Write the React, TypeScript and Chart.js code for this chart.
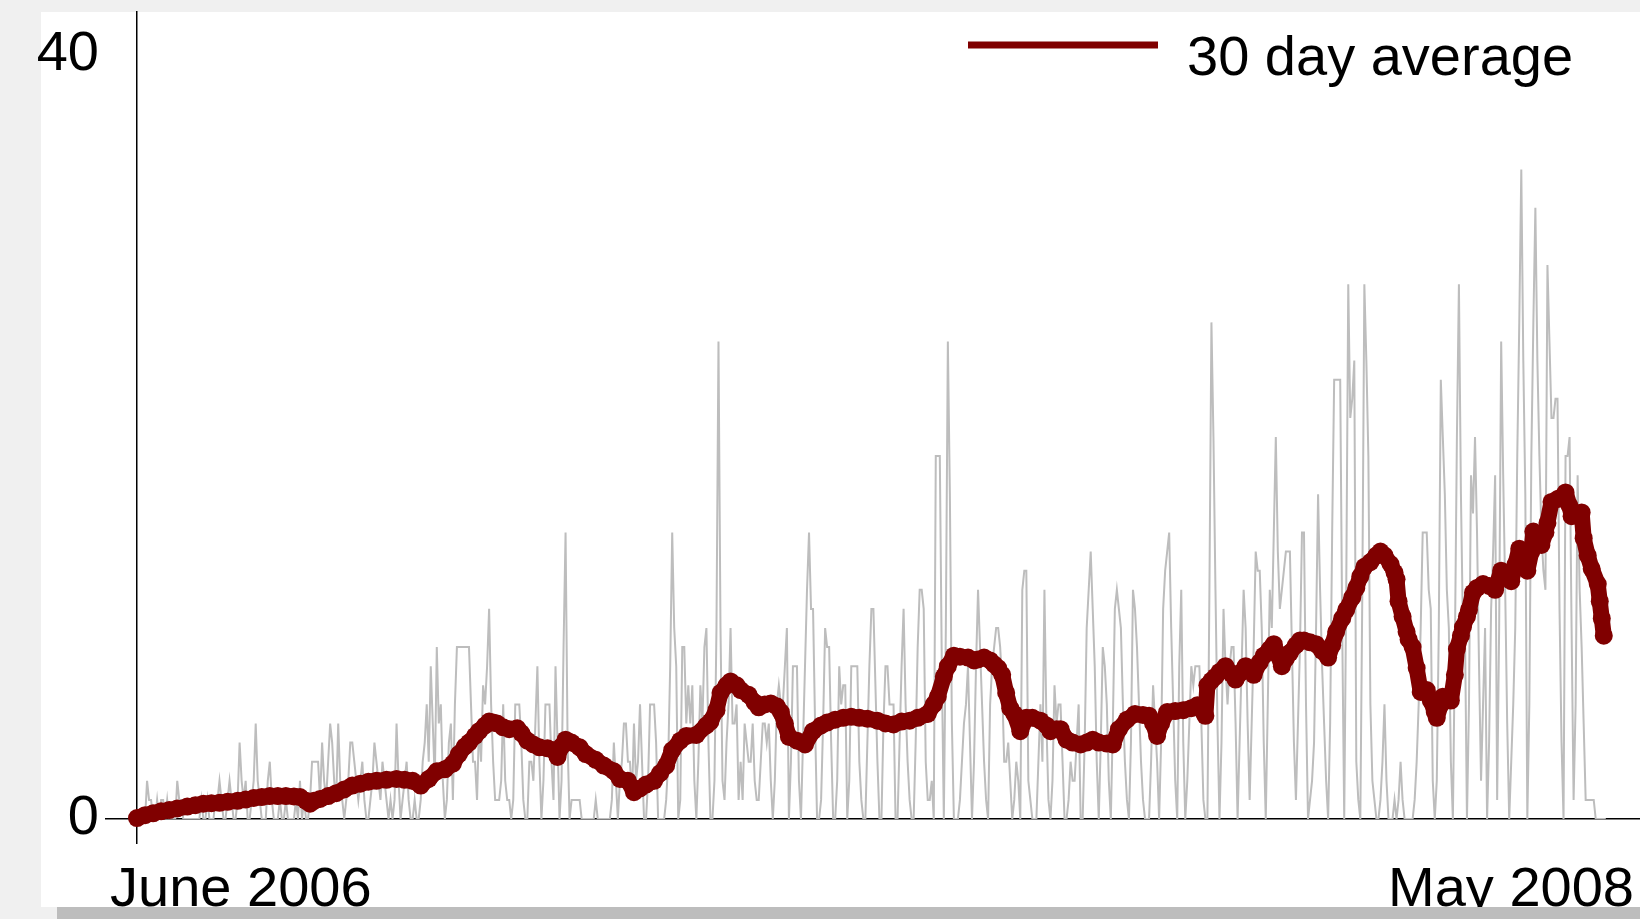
import React, { useEffect, useRef } from "react";
import { Chart, registerables } from "chart.js";

Chart.register(...registerables);

// Daily counts, one value per day from June 2006 (day 0) to May 2008
const dailyCounts: number[] = [
  0, 0, 0, 0, 0, 2, 1, 1, 0, 0,
  1, 0, 1, 1, 0, 1, 0, 0, 0, 0,
  2, 1, 1, 0, 0, 0, 0, 0, 0, 0,
  0, 0, 1, 0, 0, 1, 0, 0, 0, 1,
  1, 2, 1, 0, 0, 1, 2, 1, 0, 0,
  1, 4, 2, 1, 2, 0, 0, 1, 2, 5,
  2, 1, 0, 0, 0, 2, 3, 1, 0, 0,
  0, 1, 0, 0, 1, 0, 0, 0, 0, 1,
  0, 2, 0, 1, 0, 0, 1, 3, 3, 3,
  3, 1, 4, 2, 1, 3, 5, 4, 2, 1,
  5, 2, 1, 0, 1, 2, 4, 4, 3, 2,
  1, 2, 3, 1, 0, 0, 1, 2, 4, 3,
  2, 1, 3, 2, 1, 0, 1, 0, 1, 5,
  2, 0, 1, 2, 3, 1, 0, 0, 1, 0,
  0, 1, 3, 4, 6, 3, 8, 5, 2, 9,
  5, 6, 2, 0, 1, 4, 5, 1, 6, 9,
  9, 9, 9, 9, 9, 9, 6, 3, 3, 1,
  5, 3, 7, 6, 8, 11, 6, 3, 1, 1,
  1, 2, 6, 2, 1, 1, 0, 1, 6, 6,
  6, 4, 1, 0, 0, 3, 3, 2, 5, 8,
  3, 0, 2, 6, 6, 6, 3, 1, 8, 4,
  0, 2, 9, 15, 4, 0, 1, 1, 1, 1,
  1, 0, 0, 0, 0, 0, 0, 0, 1, 0,
  0, 0, 0, 0, 0, 0, 1, 4, 2, 0,
  2, 3, 5, 5, 3, 3, 1, 5, 2, 3,
  6, 3, 0, 0, 2, 6, 6, 6, 4, 0,
  0, 0, 0, 1, 3, 8, 15, 10, 8, 0,
  1, 9, 9, 5, 7, 5, 7, 2, 0, 3,
  7, 5, 9, 10, 4, 0, 0, 2, 10, 25,
  10, 2, 1, 4, 6, 10, 5, 5, 6, 1,
  3, 1, 5, 4, 3, 3, 5, 2, 1, 1,
  3, 5, 5, 4, 5, 2, 0, 2, 6, 7,
  6, 6, 8, 10, 0, 3, 8, 8, 8, 2,
  0, 4, 8, 12, 15, 11, 11, 5, 0, 0,
  1, 5, 10, 9, 9, 4, 0, 0, 2, 8,
  6, 7, 7, 0, 2, 8, 8, 8, 8, 3,
  1, 0, 0, 4, 8, 11, 11, 7, 3, 0,
  0, 5, 8, 8, 6, 6, 6, 0, 0, 4,
  8, 11, 6, 3, 1, 0, 0, 4, 9, 12,
  12, 11, 3, 1, 1, 2, 0, 19, 19, 19,
  8, 0, 10, 25, 17, 5, 0, 0, 0, 1,
  3, 5, 6, 8, 4, 0, 3, 8, 12, 9,
  6, 3, 1, 0, 6, 8, 9, 10, 10, 9,
  7, 3, 3, 4, 2, 0, 1, 3, 2, 0,
  12, 13, 13, 2, 1, 0, 0, 0, 3, 6,
  3, 12, 5, 1, 0, 2, 7, 5, 6, 6,
  3, 0, 0, 1, 3, 2, 2, 4, 6, 0,
  0, 4, 10, 12, 14, 11, 8, 3, 0, 4,
  9, 8, 6, 2, 0, 5, 11, 12, 11, 10,
  6, 3, 1, 0, 4, 12, 11, 9, 6, 3,
  1, 0, 0, 0, 3, 7, 5, 3, 0, 4,
  11, 13, 14, 15, 10, 6, 2, 0, 8, 12,
  4, 0, 2, 5, 8, 7, 8, 8, 8, 5,
  1, 0, 0, 12, 26, 20, 12, 5, 0, 4,
  11, 8, 6, 8, 9, 9, 5, 0, 4, 8,
  12, 10, 5, 1, 5, 9, 14, 13, 13, 10,
  4, 0, 6, 12, 10, 15, 20, 14, 11, 12,
  13, 14, 14, 14, 9, 4, 1, 5, 9, 15,
  15, 6, 0, 1, 2, 4, 10, 17, 12, 8,
  5, 2, 0, 5, 15, 23, 23, 23, 23, 10,
  0, 12, 28, 21, 22, 24, 3, 1, 0, 12,
  28, 24, 19, 6, 2, 1, 0, 0, 1, 3,
  6, 2, 0, 0, 0, 1, 0, 1, 3, 1,
  0, 0, 0, 0, 0, 1, 3, 6, 10, 15,
  15, 15, 12, 11, 2, 0, 2, 10, 23, 20,
  17, 12, 10, 3, 0, 9, 20, 28, 17, 10,
  10, 0, 6, 18, 16, 20, 15, 8, 2, 6,
  10, 0, 4, 11, 14, 18, 1, 10, 25, 18,
  12, 5, 0, 3, 6, 10, 19, 26, 34, 24,
  17, 0, 6, 19, 26, 32, 24, 19, 15, 13,
  12, 29, 25, 21, 21, 22, 22, 11, 4, 0,
  19, 19, 20, 10, 1, 6, 18, 12, 9, 5,
  1, 1, 1, 1, 1, 0, 0, 0, 0, 0,
  0,
];

// 30 day average: day index and value
const avgDays: number[] = [
  0, 4, 8, 12, 16, 20, 25, 29, 33, 37, 41, 45, 50, 54, 58, 62, 66, 70, 74, 78,
  81, 84, 86, 88, 91, 95, 99, 103, 107, 111, 115, 119, 124, 129, 133, 137, 141, 145, 149, 153,
  157, 160, 163, 165, 168, 170, 173, 175, 177, 179, 182, 185, 189, 191, 194, 197, 200, 204, 207, 209,
  211, 213, 216, 220, 223, 228, 232, 237, 240, 244, 247, 250, 253, 257, 260, 263, 266, 270, 273, 278,
  283, 285, 288, 290, 293, 295, 298, 300, 304, 307, 309, 312, 315, 318, 320, 322, 324, 328, 332, 336,
  340, 343, 347, 351, 355, 359, 363, 368, 372, 376, 380, 384, 388, 393, 396, 398, 401, 403, 406, 409,
  413, 416, 418, 421, 424, 426, 428, 430, 432, 434, 436, 439, 442, 445, 449, 452, 454, 457, 459, 462,
  465, 469, 472, 475, 478, 482, 485, 488, 492, 496, 500, 503, 505, 507, 509, 512, 516, 520, 524, 527,
  530, 531, 532, 534, 536, 538, 541, 544, 546, 549, 551, 553, 555, 558, 560, 563, 565, 567, 569, 571,
  573, 576, 578, 580, 583, 586, 589, 592, 594, 596, 599, 601, 604, 606, 608, 610, 613, 616, 618, 620,
  623, 625, 626, 627, 629, 631, 632, 634, 636, 638, 640, 641, 643, 645, 646, 648, 649, 651, 653, 655,
  656, 658, 659, 661, 662, 664, 666, 669, 672, 675, 678, 680, 683, 685, 687, 689, 691, 693, 694, 696,
  698, 700, 701, 703, 706, 708, 710, 712, 713, 715, 718, 719, 721, 723, 726, 727, 728, 729,
];
const avgValues: number[] = [
  0.05, 0.2, 0.3, 0.4, 0.47, 0.55, 0.65, 0.72, 0.8, 0.83, 0.85, 0.9, 0.95, 1.02, 1.1, 1.15, 1.2, 1.2, 1.2, 1.18,
  1.15, 0.95, 0.8, 0.95, 1.05, 1.2, 1.35, 1.55, 1.75, 1.85, 1.95, 2.0, 2.05, 2.1, 2.05, 2.0, 1.75, 2.1, 2.5, 2.6,
  2.9, 3.4, 3.8, 4.0, 4.35, 4.6, 4.9, 5.1, 5.05, 5.0, 4.8, 4.7, 4.75, 4.5, 4.1, 3.9, 3.75, 3.7, 3.6, 3.25,
  3.8, 4.15, 4.0, 3.75, 3.4, 3.1, 2.8, 2.5, 2.1, 2.0, 1.4, 1.6, 1.8, 2.0, 2.4, 2.8, 3.6, 4.1, 4.35, 4.4,
  4.9, 5.1, 5.7, 6.6, 7.0, 7.2, 7.0, 6.75, 6.5, 6.1, 5.85, 6.0, 6.05, 5.9, 5.6, 5.0, 4.3, 4.1, 3.9, 4.6,
  4.9, 5.05, 5.2, 5.3, 5.35, 5.3, 5.25, 5.15, 5.0, 4.95, 5.1, 5.15, 5.3, 5.5, 6.0, 6.4, 7.45, 8.0, 8.55, 8.5,
  8.45, 8.3, 8.35, 8.45, 8.3, 8.1, 7.9, 7.55, 6.6, 5.8, 5.5, 4.6, 5.3, 5.3, 5.15, 4.9, 4.6, 4.7, 4.7, 4.15,
  4.0, 3.9, 4.0, 4.15, 4.0, 3.95, 3.9, 4.7, 5.2, 5.5, 5.45, 5.4, 5.0, 4.35, 5.0, 5.6, 5.65, 5.7, 5.8, 5.95,
  5.6, 5.4, 7.0, 7.25, 7.45, 7.7, 8.0, 7.6, 7.3, 7.7, 8.0, 7.8, 7.55, 8.2, 8.55, 8.9, 9.15, 8.6, 8.0, 8.4,
  8.7, 9.1, 9.35, 9.35, 9.25, 9.15, 8.8, 8.45, 9.1, 9.8, 10.5, 10.95, 11.6, 12.1, 12.7, 13.2, 13.45, 13.8, 14.0, 13.8,
  13.35, 12.9, 12.55, 11.4, 10.6, 9.8, 9.4, 9.0, 7.9, 6.65, 6.7, 6.75, 6.2, 5.6, 5.3, 6.0, 6.4, 6.3, 6.2, 7.55,
  8.9, 9.6, 10.05, 10.6, 10.95, 11.85, 12.1, 12.3, 12.2, 12.0, 13.0, 12.8, 12.45, 13.3, 14.15, 13.6, 13.0, 14.0, 15.05, 14.7,
  14.35, 15.0, 15.5, 16.6, 16.75, 16.85, 17.1, 16.4, 15.85, 15.9, 16.05, 14.7, 13.8, 13.1, 12.3, 11.4, 10.5, 9.6,
];

const yTickValues: number[] = [0, 40];
const xTickDays: number[] = [0, 730];
const xTickLabels: string[] = ["June 2006", "May 2008"];
const legendLabel = "30 day average";

const FONT = "'Liberation Sans', Arial, Helvetica, sans-serif";
const RED = "#800000";

export default function App() {
  const ref = useRef<HTMLCanvasElement | null>(null);

  useEffect(() => {
    const canvas = ref.current;
    if (!canvas) return;

    const decor = {
      id: "decor",
      afterDraw(chart: any) {
        const { ctx, chartArea } = chart;
        ctx.save();
        ctx.fillStyle = "#000";
        ctx.font = `56px ${FONT}`;
        ctx.textBaseline = "alphabetic";
        // x labels
        ctx.textAlign = "left";
        ctx.fillText(xTickLabels[0], chartArea.left - 27, chartArea.bottom + 87);
        ctx.textAlign = "right";
        ctx.fillText(xTickLabels[1], chart.width - 6, chartArea.bottom + 87);
        // legend
        ctx.strokeStyle = RED;
        ctx.lineWidth = 7;
        ctx.beginPath();
        ctx.moveTo(968, 45);
        ctx.lineTo(1158, 45);
        ctx.stroke();
        ctx.textAlign = "left";
        ctx.fillText(legendLabel, 1187, 75);
        ctx.restore();
      },
    };

    const chart = new Chart(canvas, {
      type: "line",
      data: {
        datasets: [
          {
            label: legendLabel,
            data: avgDays.map((d, i) => ({ x: d, y: avgValues[i] })),
            borderColor: RED,
            backgroundColor: RED,
            borderWidth: 16,
            borderJoinStyle: "round",
            borderCapStyle: "round",
            pointRadius: 9,
            pointBorderWidth: 0,
            pointBackgroundColor: RED,
            pointBorderColor: RED,
            tension: 0,
            clip: false as any,
          },
          {
            label: "daily",
            data: dailyCounts.map((v, i) => ({ x: i, y: v })),
            borderColor: "#bdbdbd",
            borderWidth: 2,
            pointRadius: 0,
            tension: 0,
          },
        ],
      },
      options: {
        responsive: false,
        animation: false,
        devicePixelRatio: 1,
        events: [],
        layout: { autoPadding: false, padding: { top: 12, left: 0, right: 0, bottom: 0 } },
        plugins: { legend: { display: false }, tooltip: { enabled: false } },
        scales: {
          x: {
            type: "linear",
            min: 0,
            max: 747,
            afterBuildTicks: (s: any) => {
              s.ticks = xTickDays.map((v) => ({ value: v }));
            },
            afterFit: (s: any) => {
              s.height = 100;
              s.paddingLeft = 0;
              s.paddingRight = 0;
            },
            border: { display: true, color: "#000", width: 1.5 },
            grid: {
              drawOnChartArea: false,
              tickLength: 25,
              lineWidth: 1.5,
              color: (c: any) => (c.tick && c.tick.value === 0 ? "#000" : "rgba(0,0,0,0)"),
            },
            ticks: { display: false },
          },
          y: {
            min: 0,
            max: 42.25,
            afterBuildTicks: (s: any) => {
              s.ticks = yTickValues.map((v) => ({ value: v }));
            },
            afterFit: (s: any) => {
              s.width = 137;
              s.paddingTop = 0;
              s.paddingBottom = 0;
            },
            border: { display: true, color: "#000", width: 1.5 },
            grid: {
              drawOnChartArea: false,
              tickLength: 32,
              lineWidth: 1.5,
              color: (c: any) => (c.tick && c.tick.value === 0 ? "#000" : "rgba(0,0,0,0)"),
            },
            ticks: {
              padding: 6,
              color: "#000",
              font: { family: FONT, size: 56 },
              callback: (v: any) => String(v),
            },
          },
        },
      },
      plugins: [decor],
    });

    return () => chart.destroy();
  }, []);

  return (
    <div
      style={{
        position: "fixed",
        left: 0,
        top: 0,
        width: 1640,
        height: 919,
        background: "#f0f0f0",
        overflow: "hidden",
      }}
    >
      <div
        style={{
          position: "absolute",
          left: 41,
          top: 12,
          width: 1599,
          height: 895,
          background: "#ffffff",
        }}
      />
      <canvas
        ref={ref}
        width={1640}
        height={919}
        style={{ position: "absolute", left: 0, top: 0, width: 1640, height: 919 }}
      />
      <div
        style={{
          position: "absolute",
          left: 57,
          top: 907,
          width: 1583,
          height: 12,
          background: "#bdbdbd",
        }}
      />
    </div>
  );
}
